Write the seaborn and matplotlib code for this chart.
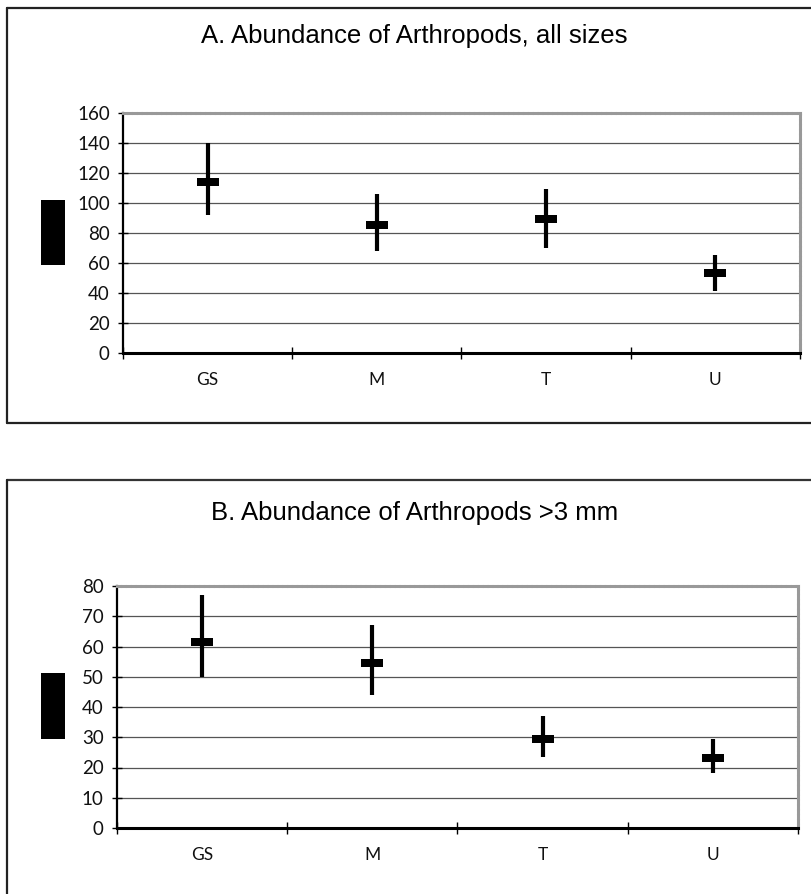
import matplotlib
matplotlib.use("Agg")
import matplotlib.pyplot as plt
import seaborn as sns
import pandas as pd
from matplotlib import font_manager

# ---- data ----
sites = ["GS", "M", "T", "U"]
a_mean = [114, 85, 89, 53]
a_low = [92, 68, 70, 41]
a_high = [140, 106, 109, 65]
a_ticks = [0, 20, 40, 60, 80, 100, 120, 140, 160]
a_title = "A. Abundance of Arthropods, all sizes"

b_mean = [61.5, 54.5, 29.5, 23.3]
b_low = [50, 44, 23.5, 18.3]
b_high = [77, 67, 37, 29.3]
b_ticks = [0, 10, 20, 30, 40, 50, 60, 70, 80]
b_title = "B. Abundance of Arthropods >3 mm"

sns.set_theme(style="white")
names = {f.name for f in font_manager.fontManager.ttflist}
title_family = ["Liberation Sans Narrow", "Liberation Sans", "DejaVu Sans"]
title_family = [f for f in title_family if f in names] or ["DejaVu Sans"]
tick_family = ["Lato", "DejaVu Sans"]
plt.rcParams["font.family"] = tick_family

W, H = 812, 894
fig = plt.figure(figsize=(W / 100, H / 100), dpi=100)
fig.patch.set_facecolor("white")

# background decoration axes in pixel coordinates
bg = fig.add_axes([0, 0, 1, 1])
bg.set_xlim(0, W)
bg.set_ylim(H, 0)
bg.axis("off")
# outer frames
bg.plot([7, 812], [8, 8], color="#222", lw=1.6)
bg.plot([7, 7], [8, 423], color="#222", lw=1.6)
bg.plot([7, 812], [423, 423], color="#222", lw=1.6)
bg.plot([7, 812], [480, 480], color="#333", lw=1.6)
bg.plot([7, 7], [480, 894], color="#222", lw=1.6)
# black bars at the left (axis label placeholders)
bg.add_patch(plt.Rectangle((41, 200), 24, 65, color="black", lw=0))
bg.add_patch(plt.Rectangle((41, 673), 24, 66, color="black", lw=0))

marker_verts = [(-1, -0.36), (1, -0.36), (1, 0.36), (-1, 0.36), (-1, -0.36)]


def panel(rect, mean, low, high, ticks, title, title_xy):
    ax = fig.add_axes(rect)
    df = pd.DataFrame({"site": sites, "mean": mean, "low": low, "high": high})
    ax.errorbar(df["site"], df["mean"],
                yerr=[df["mean"] - df["low"], df["high"] - df["mean"]],
                fmt="none", ecolor="black", elinewidth=3, capsize=0, zorder=3)
    sns.scatterplot(data=df, x="site", y="mean", marker=marker_verts, s=230,
                    color="black", edgecolor="black", linewidth=0, ax=ax,
                    legend=False, zorder=4)
    ax.set_xlim(-0.5, 3.5)
    ax.set_ylim(ticks[0], ticks[-1])
    ax.set_yticks(ticks)
    ax.set_yticklabels([str(t) for t in ticks])
    ax.set_xticks([-0.5, 0.5, 1.5, 2.5, 3.5])
    ax.set_xticklabels([])
    ax.set_xticks([0, 1, 2, 3], labels=sites, minor=True)
    ax.tick_params(axis="x", which="major", direction="inout", length=8,
                   width=1, color="black", bottom=True)
    ax.tick_params(axis="x", which="minor", length=0, pad=14,
                   labelsize=12.5, labelcolor="#111", bottom=True)
    ax.tick_params(axis="y", which="major", direction="inout", length=7,
                   width=1, color="black", left=True, pad=6,
                   labelsize=13.5, labelcolor="#111")
    ax.set_xlabel("")
    ax.set_ylabel("")
    ax.yaxis.grid(True, color="#555", lw=0.9)
    ax.xaxis.grid(False)
    ax.set_axisbelow(True)
    ax.spines["left"].set_color("black")
    ax.spines["left"].set_linewidth(1.6)
    ax.spines["bottom"].set_color("black")
    ax.spines["bottom"].set_linewidth(2.2)
    for s in ("top", "right"):
        ax.spines[s].set_color("#999999")
        ax.spines[s].set_linewidth(2.2)
        ax.spines[s].set_linestyle((0, (1, 0.6)))
    ax.set_facecolor("white")
    fig.text(title_xy[0] / W, 1 - title_xy[1] / H, title, ha="center",
             va="center", fontsize=18.5, family=title_family, color="black")
    return ax


panel([123 / W, 1 - 353 / H, 677 / W, 240 / H], a_mean, a_low, a_high,
      a_ticks, a_title, (414, 36))
panel([117 / W, 1 - 828 / H, 681 / W, 242 / H], b_mean, b_low, b_high,
      b_ticks, b_title, (415, 513))

fig.savefig("out.png", dpi=100, facecolor="white")
